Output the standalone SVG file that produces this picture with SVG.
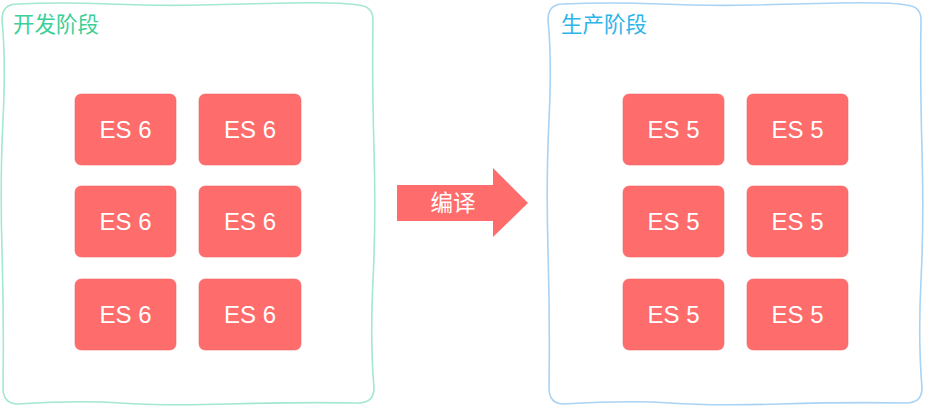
<svg xmlns="http://www.w3.org/2000/svg" width="927" height="410" viewBox="0 0 927 410">
<defs>
<style>
.frame{fill:none;stroke-width:1.6;stroke-linejoin:round}
.dev{stroke:#a3e8cf}
.prod{stroke:#a9d3f5}
.title{font-family:"Noto Sans CJK SC",sans-serif;font-size:21.5px}
.node rect{fill:#ff6c6c;stroke:#f06a6a;stroke-width:0.6}
.node text{font-family:"Liberation Sans",Arial,sans-serif;font-size:24px;fill:#fff;text-anchor:middle}
</style>
</defs>
<g id="dev-stage">
<path class="frame dev" d="M17,4 Q60,2 110,4 T200,5 T290,3 T358,5 Q373,6 373,20 Q372,80 374,150 T373,280 T374,388 Q374,403 358,403 Q300,402 230,404 T120,403 T18,404 Q3,404 3,388 Q4,320 2,250 T3,120 T2,20 Q2,4 17,4 Z"/>
<text class="title" x="13" y="31.5" fill="#3ccf97">开发阶段</text>
</g>
<g id="prod-stage">
<path class="frame prod" d="M563,4 Q610,2 660,4 T750,5 T840,3 T906,5 Q921,6 921,20 Q920,80 922,150 T921,280 T922,388 Q922,403 906,403 Q850,402 780,404 T670,403 T564,404 Q549,404 549,388 Q550,320 548,250 T549,120 T548,20 Q548,4 563,4 Z"/>
<text class="title" x="561" y="31.5" fill="#2cb5ea">生产阶段</text>
</g>
<g id="n1" class="node"><rect x="75" y="94" width="101" height="71" rx="6"/><text x="125.5" y="137.5">ES 6</text></g>
<g id="n2" class="node"><rect x="199" y="94" width="102" height="71" rx="6"/><text x="250" y="137.5">ES 6</text></g>
<g id="n3" class="node"><rect x="75" y="186" width="101" height="71" rx="6"/><text x="125.5" y="229.5">ES 6</text></g>
<g id="n4" class="node"><rect x="199" y="186" width="102" height="71" rx="6"/><text x="250" y="229.5">ES 6</text></g>
<g id="n5" class="node"><rect x="75" y="279" width="101" height="71" rx="6"/><text x="125.5" y="322.5">ES 6</text></g>
<g id="n6" class="node"><rect x="199" y="279" width="102" height="71" rx="6"/><text x="250" y="322.5">ES 6</text></g>
<g id="m1" class="node"><rect x="623" y="94" width="101" height="71" rx="6"/><text x="673.5" y="137.5">ES 5</text></g>
<g id="m2" class="node"><rect x="747" y="94" width="101" height="71" rx="6"/><text x="797.5" y="137.5">ES 5</text></g>
<g id="m3" class="node"><rect x="623" y="186" width="101" height="71" rx="6"/><text x="673.5" y="229.5">ES 5</text></g>
<g id="m4" class="node"><rect x="747" y="186" width="101" height="71" rx="6"/><text x="797.5" y="229.5">ES 5</text></g>
<g id="m5" class="node"><rect x="623" y="279" width="101" height="71" rx="6"/><text x="673.5" y="322.5">ES 5</text></g>
<g id="m6" class="node"><rect x="747" y="279" width="101" height="71" rx="6"/><text x="797.5" y="322.5">ES 5</text></g>
<g id="connectors">
<path d="M397,185 L493,185 L493,168 L528,203 L493,237 L493,221 L397,221 Z" fill="#ff6c6c"/>
<text x="453" y="211" font-family="Noto Sans CJK SC,sans-serif" font-size="22.5" fill="#fff" text-anchor="middle">编译</text>
</g>
</svg>
